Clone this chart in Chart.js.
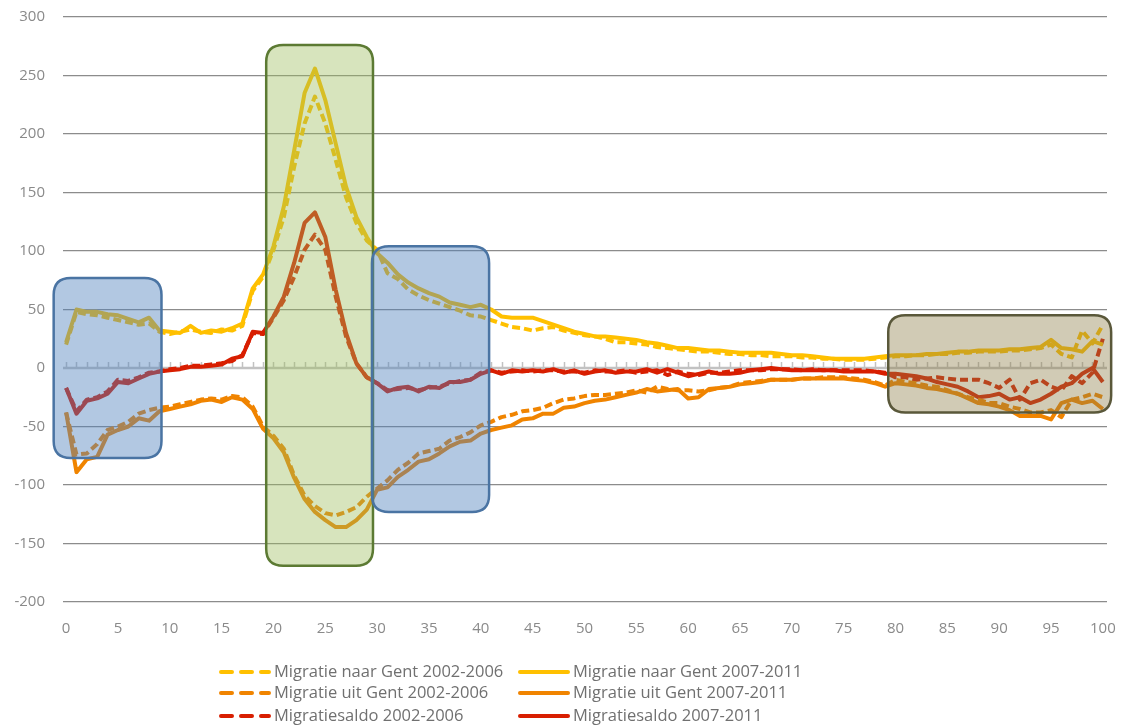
<!DOCTYPE html>
<html>
<head>
<meta charset="utf-8">
<title>Migratie Gent</title>
<script src="https://cdn.jsdelivr.net/npm/chart.js@4.4.0/dist/chart.umd.min.js"></script>
<style>
  html, body { margin: 0; padding: 0; background: #fff; }
  #wrap { width: 1121px; height: 727px; position: relative; }
</style>
</head>
<body>
<div id="wrap"><canvas id="chart"></canvas></div>
<script>
// Leeftijden 0..100
const ages = Array.from({ length: 101 }, (_, i) => i);

const xTicks = [0, 5, 10, 15, 20, 25, 30, 35, 40, 45, 50, 55, 60, 65, 70, 75, 80, 85, 90, 95, 100];

// Migratie naar Gent
const naar2002 = [20, 48, 46, 45, 43, 41, 39, 37, 38, 31, 29, 31, 33, 31, 30, 33, 32, 36, 66, 78,
  101, 129, 172, 209, 232, 209, 178, 146, 124, 109, 101, 81, 76, 67, 62, 58, 55, 52, 49, 45,
  44, 41, 38, 35, 34, 32, 34, 35, 32, 30, 28, 27, 25, 22, 22, 21, 20, 18, 17, 16,
  15, 14, 14, 13, 12, 12, 11, 11, 10, 10, 10, 9, 9, 8, 8, 7, 7, 7, 8, 9,
  10, 10, 11, 11, 12, 12, 13, 13, 14, 14, 14, 15, 15, 16, 17, 20, 12, 9, 32, 21, 37];
const naar2007 = [22, 50, 48, 48, 46, 45, 42, 39, 43, 32, 31, 30, 36, 30, 32, 31, 34, 38, 68, 80,
  104, 138, 186, 235, 256, 229, 192, 155, 129, 112, 98, 90, 80, 73, 68, 64, 61, 56, 54, 52,
  54, 50, 44, 43, 43, 43, 40, 37, 34, 31, 29, 27, 27, 26, 25, 24, 22, 21, 19, 17,
  17, 16, 15, 15, 14, 13, 13, 13, 13, 12, 11, 11, 10, 9, 8, 8, 8, 8, 9, 10,
  11, 11, 11, 12, 12, 13, 14, 14, 15, 15, 15, 16, 16, 17, 18, 24, 17, 16, 14, 23, 20];

// Migratie uit Gent
const uit2002 = [-38, -74, -73, -65, -53, -50, -46, -39, -36, -34, -33, -31, -29, -27, -26, -27, -24, -25, -33, -50,
  -58, -69, -92, -109, -118, -124, -126, -123, -119, -110, -103, -96, -87, -81, -73, -71, -69, -62, -59, -55,
  -49, -46, -42, -40, -37, -36, -34, -30, -27, -26, -24, -23, -23, -22, -21, -19, -21, -16, -18, -19,
  -19, -20, -19, -17, -16, -13, -12, -11, -10, -10, -10, -9, -9, -8, -8, -8, -9, -10, -12, -15,
  -10, -12, -13, -15, -16, -19, -22, -25, -27, -30, -30, -33, -35, -38, -38, -36, -42, -27, -25, -22, -25];
const uit2007 = [-38, -89, -78, -76, -57, -53, -50, -43, -45, -37, -35, -33, -31, -28, -27, -29, -25, -27, -35, -52,
  -60, -72, -94, -112, -123, -130, -136, -136, -130, -121, -104, -102, -93, -87, -80, -78, -73, -67, -63, -62,
  -56, -53, -51, -49, -44, -43, -39, -39, -34, -33, -30, -28, -27, -25, -23, -21, -18, -20, -19, -18,
  -26, -25, -18, -17, -16, -14, -13, -12, -10, -10, -10, -9, -9, -9, -9, -9, -10, -11, -13, -16,
  -13, -14, -15, -17, -18, -20, -22, -26, -30, -31, -33, -36, -41, -41, -41, -44, -30, -27, -30, -28, -35];

// Migratiesaldo
const saldo2002 = [-17, -37, -27, -25, -20, -10, -11, -8, -4, -3, -1, 0, 2, 2, 3, 4, 6, 11, 30, 29,
  43, 58, 78, 101, 114, 101, 61, 27, 4, -8, -13, -19, -18, -17, -19, -17, -16, -13, -11, -10,
  -4, -2, -4, -3, -2, -3, -2, -2, -3, -3, -4, -2, -3, -3, -2, -4, -3, -2, -6, -3,
  -5, -6, -4, -4, -3, -2, -2, -2, -1, -1, -1, -2, -1, -2, -2, -2, -2, -2, -3, -4,
  -8, -8, -10, -9, -8, -9, -10, -10, -10, -13, -17, -10, -27, -13, -10, -16, -19, -7, -13, -4, 25];
const saldo2007 = [-17, -39, -28, -26, -22, -12, -13, -9, -5, -3, -2, -1, 1, 1, 2, 3, 8, 10, 31, 30,
  44, 61, 90, 124, 133, 112, 67, 30, 4, -8, -13, -20, -17, -16, -20, -16, -17, -12, -12, -10,
  -5, -2, -5, -2, -3, -2, -3, -1, -4, -2, -5, -3, -2, -4, -3, -3, -1, -4, -1, -4,
  -7, -5, -3, -5, -5, -4, -2, -1, 0, -1, -2, -2, -2, -2, -2, -3, -3, -3, -3, -5,
  -5, -6, -7, -9, -12, -14, -16, -20, -25, -24, -22, -27, -25, -30, -27, -22, -16, -13, -5, 0, -12];

// Gemarkeerde zones (leeftijd van/tot, waarde van/tot)
const zones = [
  { x0: -1.2, x1: 9.2, y0: -77, y1: 77, fill: 'rgba(79,129,189,0.44)', stroke: '#4a74a3' },
  { x0: 19.3, x1: 29.6, y0: -169, y1: 276, fill: 'rgba(155,187,89,0.40)', stroke: '#5c7a33' },
  { x0: 29.5, x1: 40.8, y0: -123, y1: 104, fill: 'rgba(79,129,189,0.44)', stroke: '#4a74a3' },
  { x0: 79.3, x1: 100.8, y0: -38, y1: 45, fill: 'rgba(140,125,70,0.40)', stroke: '#5a583a' }
];

const YELLOW = '#ffc000';
const ORANGE = '#f08400';
const RED = '#d81e00';

function points(values) {
  return ages.map((a, i) => ({ x: a, y: values[i] }));
}

function series(label, values, color, dashed) {
  return {
    label: label,
    data: points(values),
    borderColor: color,
    backgroundColor: color,
    borderWidth: 4,
    borderDash: dashed ? [8, 4] : [],
    borderJoinStyle: 'round',
    pointRadius: 0,
    tension: 0,
    fill: false
  };
}

// Nul-as met kleine streepjes per jaar
const zeroAxis = {
  id: 'zeroAxis',
  beforeDatasetsDraw(chart) {
    const { ctx, chartArea, scales } = chart;
    const y0 = scales.y.getPixelForValue(0);
    ctx.save();
    ctx.strokeStyle = '#c2c2c2';
    ctx.lineWidth = 2.5;
    ctx.beginPath();
    ctx.moveTo(chartArea.left, y0);
    ctx.lineTo(chartArea.right, y0);
    ctx.stroke();
    ctx.lineWidth = 1.5;
    ctx.beginPath();
    ages.forEach(a => {
      const px = Math.round(scales.x.getPixelForValue(a)) + 0.5;
      ctx.moveTo(px, y0);
      ctx.lineTo(px, y0 - 6);
    });
    ctx.stroke();
    ctx.restore();
  }
};

function roundRect(ctx, x, y, w, h, r) {
  ctx.beginPath();
  ctx.moveTo(x + r, y);
  ctx.lineTo(x + w - r, y);
  ctx.quadraticCurveTo(x + w, y, x + w, y + r);
  ctx.lineTo(x + w, y + h - r);
  ctx.quadraticCurveTo(x + w, y + h, x + w - r, y + h);
  ctx.lineTo(x + r, y + h);
  ctx.quadraticCurveTo(x, y + h, x, y + h - r);
  ctx.lineTo(x, y + r);
  ctx.quadraticCurveTo(x, y, x + r, y);
  ctx.closePath();
}

// Transparante kaders over de lijnen
const zoneBoxes = {
  id: 'zoneBoxes',
  afterDatasetsDraw(chart) {
    const { ctx, scales } = chart;
    ctx.save();
    zones.forEach(z => {
      const left = scales.x.getPixelForValue(z.x0);
      const right = scales.x.getPixelForValue(z.x1);
      const top = scales.y.getPixelForValue(z.y1);
      const bottom = scales.y.getPixelForValue(z.y0);
      roundRect(ctx, left, top, right - left, bottom - top, 17);
      ctx.fillStyle = z.fill;
      ctx.fill();
      ctx.lineWidth = 2.5;
      ctx.strokeStyle = z.stroke;
      ctx.stroke();
    });
    ctx.restore();
  }
};

// Legende in twee kolommen onder de grafiek
const gridLegend = {
  id: 'gridLegend',
  afterDraw(chart) {
    const { ctx } = chart;
    const ds = chart.data.datasets;
    const cols = [219, 518];
    const rows = [672, 693, 716];
    ctx.save();
    ctx.font = '16.5px "Open Sans", sans-serif';
    ctx.textBaseline = 'middle';
    ds.forEach((d, i) => {
      const col = i % 2;
      const row = Math.floor(i / 2);
      const x = cols[col];
      const y = rows[row];
      ctx.strokeStyle = d.borderColor;
      ctx.lineWidth = 4;
      ctx.lineCap = 'round';
      ctx.setLineDash(d.borderDash.length ? [11, 9] : []);
      ctx.beginPath();
      ctx.moveTo(x + 2, y);
      ctx.lineTo(x + 50, y);
      ctx.stroke();
      ctx.setLineDash([]);
      ctx.fillStyle = '#707070';
      ctx.fillText(d.label, x + 55, y);
    });
    ctx.restore();
  }
};

const ctx = document.getElementById('chart').getContext('2d');
new Chart(ctx, {
  type: 'line',
  data: {
    datasets: [
      series('Migratie naar Gent 2002-2006', naar2002, YELLOW, true),
      series('Migratie naar Gent 2007-2011', naar2007, YELLOW, false),
      series('Migratie uit Gent 2002-2006', uit2002, ORANGE, true),
      series('Migratie uit Gent 2007-2011', uit2007, ORANGE, false),
      series('Migratiesaldo 2002-2006', saldo2002, RED, true),
      series('Migratiesaldo 2007-2011', saldo2007, RED, false)
    ]
  },
  options: {
    responsive: true,
    maintainAspectRatio: false,
    animation: false,
    layout: { padding: { left: 0, right: 14, top: 17, bottom: 0 } },
    plugins: {
      legend: { display: false },
      tooltip: { enabled: false }
    },
    scales: {
      x: {
        type: 'linear',
        min: -0.3,
        max: 100.4,
        afterBuildTicks(scale) {
          scale.ticks = xTicks.map(v => ({ value: v }));
        },
        afterFit(scale) {
          scale.height = 125;
          scale.paddingLeft = 0;
          scale.paddingRight = 0;
        },
        grid: { display: false, drawTicks: false },
        border: { display: false },
        ticks: {
          color: '#8a8a8a',
          font: { family: '"Open Sans", sans-serif', size: 15 },
          padding: 18,
          maxRotation: 0,
          autoSkip: false
        }
      },
      y: {
        min: -200,
        max: 300,
        afterFit(scale) {
          scale.width = 63;
          scale.paddingTop = 0;
          scale.paddingBottom = 0;
        },
        grid: {
          color: ctx => (ctx.tick && ctx.tick.value === 0) ? 'rgba(0,0,0,0)' : '#8c8c8c',
          lineWidth: 1.2,
          drawTicks: false
        },
        border: { display: false },
        ticks: {
          stepSize: 50,
          color: '#8a8a8a',
          font: { family: '"Open Sans", sans-serif', size: 15 },
          padding: 18
        }
      }
    }
  },
  plugins: [zeroAxis, zoneBoxes, gridLegend]
});
</script>
</body>
</html>
